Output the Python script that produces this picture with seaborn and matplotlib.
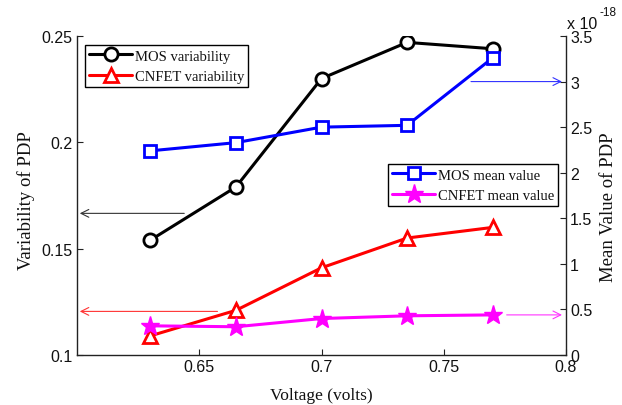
import matplotlib
matplotlib.use("Agg")
import matplotlib.pyplot as plt
import seaborn as sns
import pandas as pd

# ---- data ----
voltage = [0.63, 0.665, 0.70, 0.735, 0.77]
mos_variability = [0.154, 0.179, 0.230, 0.247, 0.244]
cnfet_variability = [0.109, 0.121, 0.141, 0.155, 0.160]
mos_mean = [2.24, 2.33, 2.50, 2.52, 3.26]      # x 1e-18
cnfet_mean = [0.32, 0.31, 0.40, 0.43, 0.44]    # x 1e-18

left_ticks = [0.1, 0.15, 0.2, 0.25]
left_ticklabels = ["0.1", "0.15", "0.2", "0.25"]
right_ticks = [0, 0.5, 1, 1.5, 2, 2.5, 3, 3.5]
right_ticklabels = ["0", "0.5", "1", "1.5", "2", "2.5", "3", "3.5"]
x_ticks = [0.65, 0.7, 0.75, 0.8]
x_ticklabels = ["0.65", "0.7", "0.75", "0.8"]

sns.set_theme(style="white")
plt.rcParams["font.family"] = ["Liberation Sans", "DejaVu Sans"]
SERIF = ["Liberation Serif", "DejaVu Serif"]

df = pd.DataFrame({"voltage": voltage, "mos_var": mos_variability,
                   "cnfet_var": cnfet_variability, "mos_mean": mos_mean,
                   "cnfet_mean": cnfet_mean})

fig = plt.figure(figsize=(6.22, 4.06), dpi=100)
ax = fig.add_axes([77/622, 1-356/406, (566-77)/622, (356-37)/406])
ax2 = ax.twinx()

lw = 2.2
mew = 2.0
sns.lineplot(data=df, x="voltage", y="mos_var", ax=ax, color="black", marker="o",
             markersize=9.5, markerfacecolor="white", markeredgecolor="black",
             markeredgewidth=mew, linewidth=lw, label="MOS variability")
sns.lineplot(data=df, x="voltage", y="cnfet_var", ax=ax, color="red", marker="^",
             markersize=10.5, markerfacecolor="white", markeredgecolor="red",
             markeredgewidth=mew, linewidth=lw, label="CNFET variability")
sns.lineplot(data=df, x="voltage", y="mos_mean", ax=ax2, color="blue", marker="s",
             markersize=8.5, markerfacecolor="white", markeredgecolor="blue",
             markeredgewidth=mew, linewidth=lw, label="MOS mean value")
sns.lineplot(data=df, x="voltage", y="cnfet_mean", ax=ax2, color="magenta", marker="*",
             markersize=14, markerfacecolor="magenta", markeredgecolor="magenta",
             markeredgewidth=1, linewidth=lw, label="CNFET mean value")

ax.set_xlim(0.6, 0.8)
ax.set_ylim(0.1, 0.25)
ax2.set_ylim(0, 3.5)

ax.set_xticks(x_ticks)
ax.set_xticklabels(x_ticklabels)
ax.set_yticks(left_ticks)
ax.set_yticklabels(left_ticklabels)
ax2.set_yticks(right_ticks)
ax2.set_yticklabels(right_ticklabels)

for a in (ax, ax2):
    a.tick_params(direction="in", length=4, width=0.8, colors="#222222",
                  labelsize=11.5, labelcolor="#111111", pad=3)
    for s in a.spines.values():
        s.set_color("#222222")
        s.set_linewidth(1.0)
    a.spines["top"].set_visible(False)
    a.grid(False)
ax.tick_params(axis="y", left=True, right=False)
ax.tick_params(axis="x", bottom=True)
ax2.tick_params(axis="y", right=True, left=False)
ax.spines["right"].set_visible(False)
ax2.spines["left"].set_visible(False)
ax2.spines["bottom"].set_visible(False)

ax.set_xlabel("Voltage (volts)", family=SERIF, fontsize=12.5, color="#111111")
ax.set_ylabel("Variability of PDP", family=SERIF, fontsize=13.5, color="#111111")
ax2.set_ylabel("Mean Value of PDP", family=SERIF, fontsize=13.5, color="#111111")
ax.xaxis.set_label_coords(0.5, -0.100)
ax.yaxis.set_label_coords(-0.086, 0.486)
ax2.yaxis.set_label_coords(1.0695, 0.467)

# exponent label
fig.text(567/622, 1-29/406, "x 10", fontsize=11.5, color="#111111", va="baseline", ha="left")
fig.text(599/622, 1-16/406, "-18", fontsize=8.5, color="#111111", va="baseline", ha="left")

# arrows
ax.annotate("", xy=(0.6, 0.1666), xytext=(0.645, 0.1666),
            arrowprops=dict(arrowstyle="->", color="#333333", lw=0.8, mutation_scale=14))
ax.annotate("", xy=(0.6, 0.1205), xytext=(0.6586, 0.1205),
            arrowprops=dict(arrowstyle="->", color="#ff3333", lw=0.8, mutation_scale=14))
ax2.annotate("", xy=(0.7995, 3.0), xytext=(0.760, 3.0),
             arrowprops=dict(arrowstyle="->", color="#3333ff", lw=0.8, mutation_scale=14))
ax2.annotate("", xy=(0.7995, 0.44), xytext=(0.7746, 0.44),
             arrowprops=dict(arrowstyle="->", color="#ff33ff", lw=0.8, mutation_scale=14))

legkw = dict(prop={"family": SERIF, "size": 10.5}, frameon=True, fancybox=False,
             edgecolor="black", framealpha=1, borderpad=0.3, labelspacing=0.5,
             handlelength=2.9, handletextpad=0.2, borderaxespad=0, loc="upper left",
             bbox_transform=fig.transFigure)
l1 = ax.legend(bbox_to_anchor=(85/622, 1-46/406), **legkw)
l1.get_frame().set_linewidth(1.0)
l2 = ax2.legend(bbox_to_anchor=(388/622, 1-165/406), **legkw)
l2.get_frame().set_linewidth(1.0)
for t in l1.get_texts() + l2.get_texts():
    t.set_color("#111111")

fig.savefig("out.png", dpi=100)
